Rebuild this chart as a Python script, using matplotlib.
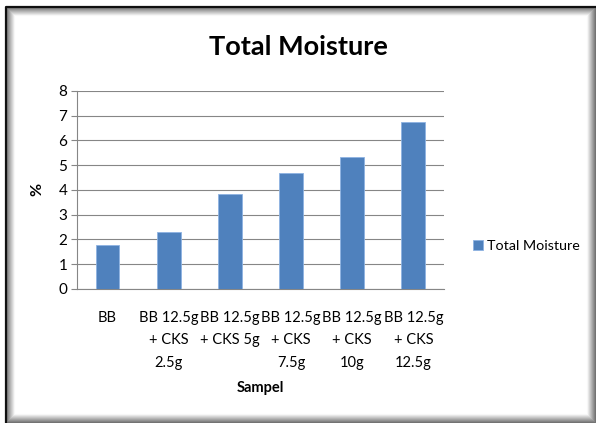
import matplotlib.pyplot as plt
from matplotlib.lines import Line2D

# data
sampel = ["BB", "BB 12.5g\n+ CKS\n2.5g", "BB 12.5g\n+ CKS 5g", "BB 12.5g\n+ CKS\n7.5g",
          "BB 12.5g\n+ CKS\n10g", "BB 12.5g\n+ CKS\n12.5g"]
total_moisture = [1.78, 2.29, 3.83, 4.67, 5.35, 6.73]

plt.rcParams['font.family'] = ['Lato', 'DejaVu Sans']

W, H = 596, 423
fig = plt.figure(figsize=(W / 100, H / 100), dpi=100)
ax = fig.add_axes([0.129, 0.317, 0.616, 0.468])

warna = "#4F81BD"
ax.bar(range(len(sampel)), total_moisture, width=0.39, color=warna,
       edgecolor="#8DB3E2", linewidth=0.6, label="Total Moisture", zorder=3)

ax.set_xlim(-0.5, len(sampel) - 0.5)
ax.set_ylim(0, 8)
ax.set_yticks(range(0, 9))
ax.set_xticks(range(len(sampel)))
ax.set_xticklabels(sampel, fontsize=10.5, linespacing=1.75)
ax.tick_params(axis='y', labelsize=11, length=4, color="#868686", pad=3)
ax.tick_params(axis='x', length=0, pad=16)
ax.grid(axis='y', color="#868686", linewidth=0.8, zorder=0)
for s in ["top", "right"]:
    ax.spines[s].set_visible(False)
ax.spines["left"].set_color("#868686")
ax.spines["bottom"].set_color("#868686")

ax.set_ylabel("%", fontsize=11.5, fontweight="bold", labelpad=10)
ax.set_xlabel("Sampel", fontsize=10.5, fontweight="bold", labelpad=8)
fig.text(0.5, 0.888, "Total Moisture", ha="center", va="center",
         fontsize=19.5, fontweight="bold")

fig.legend(loc="center left", bbox_to_anchor=(0.772, 0.418), frameon=False,
           fontsize=10.3, handlelength=0.7, handleheight=0.7, handletextpad=0.3)

# marco con sombra interior
x0, y0, x1, y1 = 6, 7, 595, 422
for i in range(9):
    g = 0.45 + 0.065 * i
    c = (g, g, g)
    xa, xb = (x0 + i) / W, (x1 - i) / W
    ya, yb = 1 - (y0 + i) / H, 1 - (y1 - i) / H
    fig.add_artist(Line2D([xa, xa, xb, xb, xa], [ya, yb, yb, ya, ya],
                          transform=fig.transFigure, color=c, linewidth=0.8))
fig.add_artist(Line2D([x0 / W, x0 / W, x1 / W], [1 - y1 / H, 1 - y0 / H, 1 - y0 / H],
                      transform=fig.transFigure, color="#101010", linewidth=1.6))

fig.savefig("out.png", dpi=100)
